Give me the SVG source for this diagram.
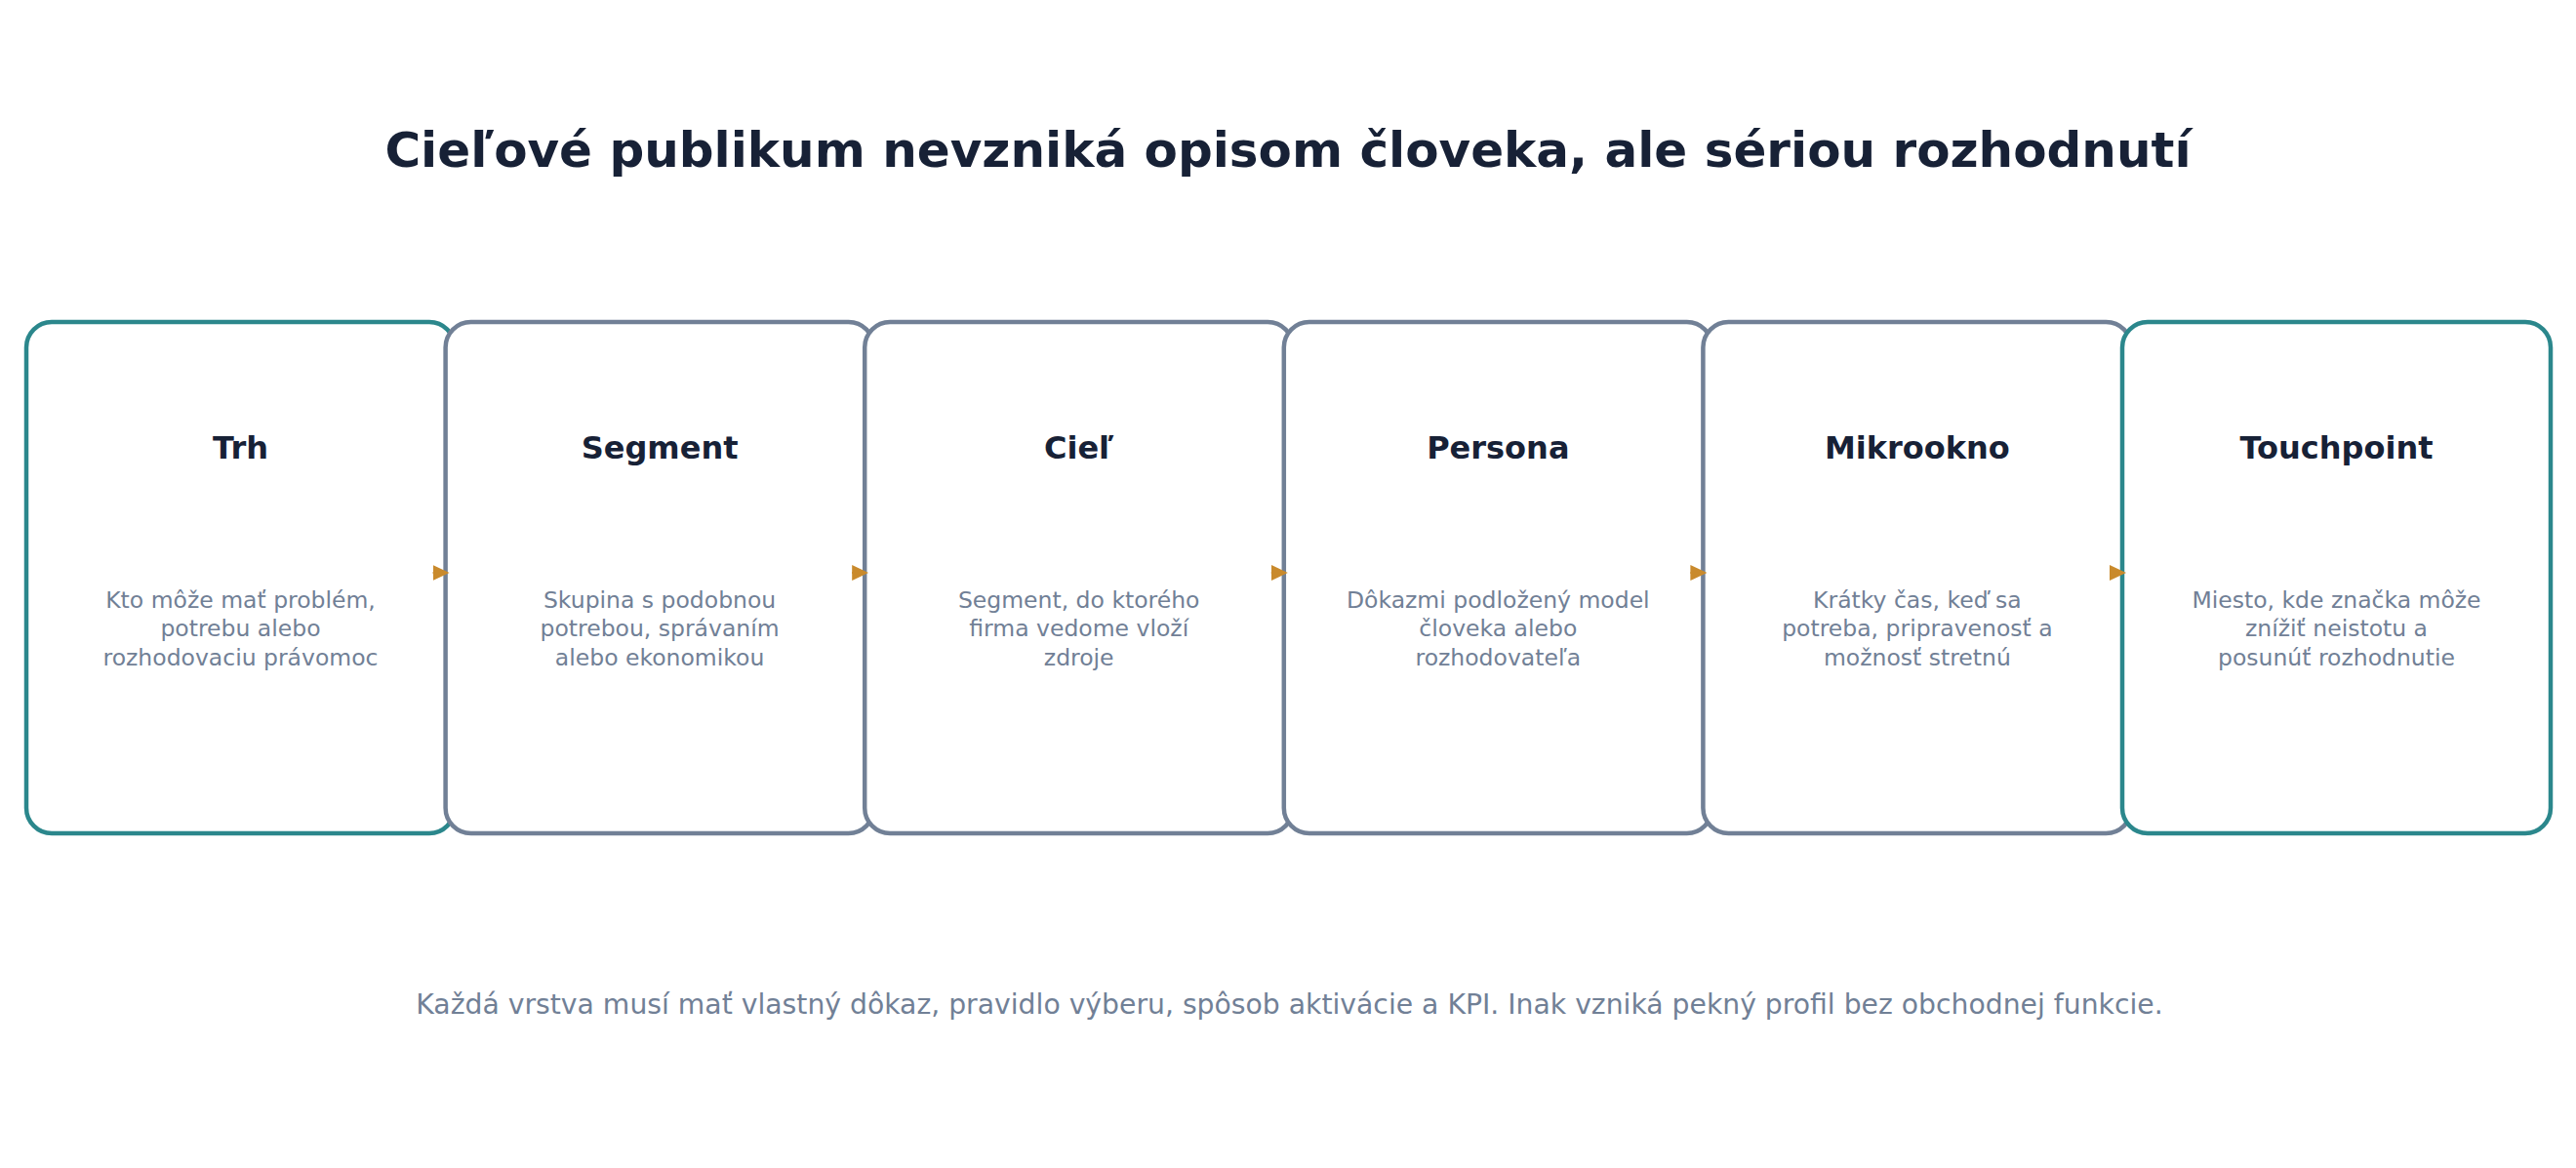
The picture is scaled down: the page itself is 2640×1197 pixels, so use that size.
<svg xmlns="http://www.w3.org/2000/svg" width="2640" height="1197" viewBox="0 0 2640 1197">
<style>
.bg{fill:#ffffff}
.box{fill:#ffffff;stroke-width:4.5}
.teal{stroke:#2b878c}
.gray{stroke:#718096}
.title{font-family:"DejaVu Sans",sans-serif;font-weight:bold;font-size:50px;fill:#172136;text-anchor:middle}
.h{font-family:"DejaVu Sans",sans-serif;font-weight:bold;font-size:32px;fill:#172136;text-anchor:middle}
.d{font-family:"DejaVu Sans",sans-serif;font-size:23.5px;fill:#718096;text-anchor:middle}
.foot{font-family:"DejaVu Sans",sans-serif;font-size:28.25px;fill:#718096;text-anchor:middle}
.conn{stroke:#c98a2c;stroke-width:2;fill:none}
</style>
<defs>
<marker id="arr" markerUnits="userSpaceOnUse" markerWidth="17" markerHeight="17" viewBox="0 0 17 17" refX="2" refY="8.5" orient="auto">
<path d="M0,0.5 L17,8.5 L0,16.5 Z" fill="#c98a2c"/>
</marker>
</defs>
<rect class="bg" x="0" y="0" width="2640" height="1197"/>
<text class="title" x="1320" y="171">Cieľové publikum nevzniká opisom človeka, ale sériou rozhodnutí</text>
<g id="node-trh">
<rect class="box teal" x="27" y="330" width="439" height="524" rx="26"/>
<text class="h" x="246.5" y="469.5">Trh</text>
<text class="d" x="246.5" y="622.5">Kto môže mať problém,</text>
<text class="d" x="246.5" y="652">potrebu alebo</text>
<text class="d" x="246.5" y="681.5">rozhodovaciu právomoc</text>
</g>
<g id="node-segment">
<rect class="box gray" x="456.6" y="330" width="439" height="524" rx="26"/>
<text class="h" x="676.1" y="469.5">Segment</text>
<text class="d" x="676.1" y="622.5">Skupina s podobnou</text>
<text class="d" x="676.1" y="652">potrebou, správaním</text>
<text class="d" x="676.1" y="681.5">alebo ekonomikou</text>
</g>
<g id="node-ciel">
<rect class="box gray" x="886.2" y="330" width="439" height="524" rx="26"/>
<text class="h" x="1105.7" y="469.5">Cieľ</text>
<text class="d" x="1105.7" y="622.5">Segment, do ktorého</text>
<text class="d" x="1105.7" y="652">firma vedome vloží</text>
<text class="d" x="1105.7" y="681.5">zdroje</text>
</g>
<g id="node-persona">
<rect class="box gray" x="1315.8" y="330" width="439" height="524" rx="26"/>
<text class="h" x="1535.3" y="469.5">Persona</text>
<text class="d" x="1535.3" y="622.5">Dôkazmi podložený model</text>
<text class="d" x="1535.3" y="652">človeka alebo</text>
<text class="d" x="1535.3" y="681.5">rozhodovateľa</text>
</g>
<g id="node-mikrookno">
<rect class="box gray" x="1745.4" y="330" width="439" height="524" rx="26"/>
<text class="h" x="1964.9" y="469.5">Mikrookno</text>
<text class="d" x="1964.9" y="622.5">Krátky čas, keď sa</text>
<text class="d" x="1964.9" y="652">potreba, pripravenosť a</text>
<text class="d" x="1964.9" y="681.5">možnosť stretnú</text>
</g>
<g id="node-touchpoint">
<rect class="box teal" x="2175" y="330" width="439" height="524" rx="26"/>
<text class="h" x="2394.5" y="469.5">Touchpoint</text>
<text class="d" x="2394.5" y="622.5">Miesto, kde značka môže</text>
<text class="d" x="2394.5" y="652">znížiť neistotu a</text>
<text class="d" x="2394.5" y="681.5">posunúť rozhodnutie</text>
</g>
<g id="connectors">
<line class="conn" x1="443.6" y1="587" x2="445.6" y2="587" marker-end="url(#arr)"/>
<line class="conn" x1="873.2" y1="587" x2="875.2" y2="587" marker-end="url(#arr)"/>
<line class="conn" x1="1302.8" y1="587" x2="1304.8" y2="587" marker-end="url(#arr)"/>
<line class="conn" x1="1732.4" y1="587" x2="1734.4" y2="587" marker-end="url(#arr)"/>
<line class="conn" x1="2162" y1="587" x2="2164" y2="587" marker-end="url(#arr)"/>
</g>
<text class="foot" x="1321.5" y="1039">Každá vrstva musí mať vlastný dôkaz, pravidlo výberu, spôsob aktivácie a KPI. Inak vzniká pekný profil bez obchodnej funkcie.</text>
</svg>
